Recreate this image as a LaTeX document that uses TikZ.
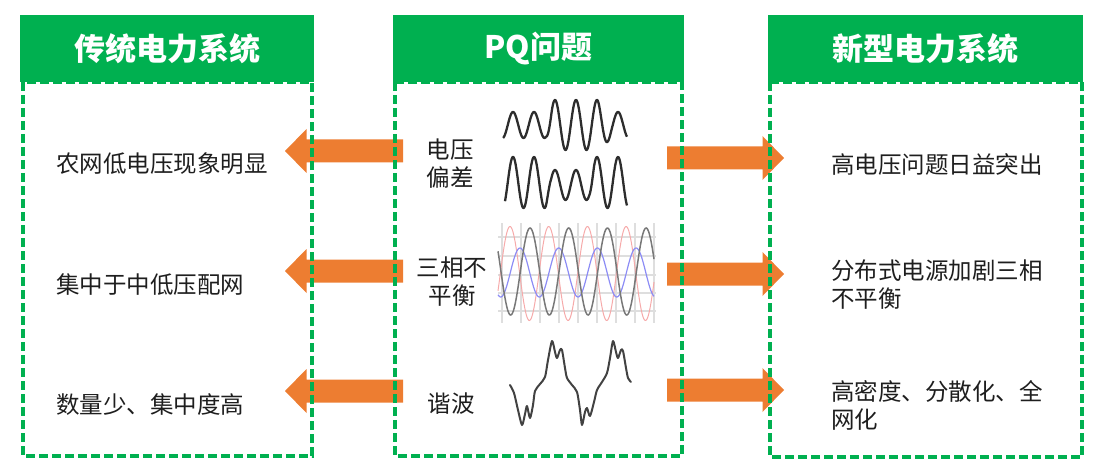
\documentclass[tikz,border=0pt]{standalone}
\usepackage{fontspec}
\setmainfont{Noto Sans CJK SC}
\usetikzlibrary{calc}
\definecolor{pqgreen}{RGB}{0,176,80}
\definecolor{pqorange}{RGB}{237,125,49}
\definecolor{pqtext}{RGB}{30,30,30}
\definecolor{wavegray}{RGB}{45,45,45}
\definecolor{phasegray}{RGB}{120,120,120}
\definecolor{phasered}{RGB}{246,170,170}
\definecolor{phaseblue}{RGB}{140,140,245}
\definecolor{gridgray}{RGB}{222,222,222}
\newcommand\blockarrow[3]{%
  \fill[pqorange] let \p1=(#1), \p2=(#2), \n1={\x2-(#3)*21.5pt} in
   ({\x1},{\y1+11.5pt}) -- ({\n1},{\y1+11.5pt}) -- ({\n1},{\y1+22pt})
   -- ({\x2},{\y1}) -- ({\n1},{\y1-22pt}) -- ({\n1},{\y1-11.5pt})
   -- ({\x1},{\y1-11.5pt}) -- cycle;}
\begin{document}
\begin{tikzpicture}[x=1pt,y=-1pt,
  headerbox/.style={fill=pqgreen,draw=none,text=white,inner sep=0pt,
     minimum height=67pt,font=\fontsize{31pt}{36pt}\selectfont\bfseries},
  dashbox/.style={draw=pqgreen,line width=3.3pt,dash pattern=on 9pt off 4pt},
  bodytext/.style={inner sep=0pt,text=pqtext,font=\fontsize{23.5pt}{28pt}\selectfont},
  volt/.style={draw=wavegray,line width=2.3pt,line join=round},
  harm/.style={draw=wavegray!90,line width=2pt,line join=round,line cap=round}]
\useasboundingbox (0,0) rectangle (1107,473);
% arrows (coordinates)
\coordinate (la1t) at (403,151); \coordinate (la1h) at (285,151);
\coordinate (la2t) at (403,271); \coordinate (la2h) at (285,271);
\coordinate (la3t) at (403,391); \coordinate (la3h) at (285,391);
\coordinate (ra1t) at (667,158); \coordinate (ra1h) at (784,158);
\coordinate (ra2t) at (667,274); \coordinate (ra2h) at (784,274);
\coordinate (ra3t) at (667,390); \coordinate (ra3h) at (784,390);
\blockarrow{la1t}{la1h}{-1}
\blockarrow{la2t}{la2h}{-1}
\blockarrow{la3t}{la3h}{-1}
\blockarrow{ra1t}{ra1h}{1}
\blockarrow{ra2t}{ra2h}{1}
\blockarrow{ra3t}{ra3h}{1}
% dashed panels
\draw[dashbox] (23,82) rectangle (312,456);
\draw[dashbox] (395,82) rectangle (682,456);
\draw[dashbox] (770,82) rectangle (1082,457);
% headers
\node[headerbox,minimum width=294pt] (h1) at (167,48.5) {传统电力系统};
\node[headerbox,minimum width=291pt] (h2) at (538.5,48.5) {PQ问题};
\node[headerbox,minimum width=315pt] (h3) at (925.5,48.5) {新型电力系统};
% left texts
\node[bodytext,anchor=west] (l1) at (56,164) {农网低电压现象明显};
\node[bodytext,anchor=west] (l2) at (56,285) {集中于中低压配网};
\node[bodytext,anchor=west] (l3) at (56,405) {数量少、集中度高};
% centre labels
\node[bodytext,align=center] (c1) at (450,164) {电压\\偏差};
\node[bodytext,align=center] (c2) at (452,282) {三相不\\平衡};
\node[bodytext,align=center] (c3) at (451,404) {谐波};
% right texts
\node[bodytext,anchor=west,align=left] (r1) at (831,164) {高电压问题日益突出};
\node[bodytext,anchor=west,align=left] (r2) at (831,284.5) {分布式电源加剧三相\\不平衡};
\node[bodytext,anchor=west,align=left] (r3) at (831,405) {高密度、分散化、全\\网化};
% voltage deviation waves
\draw[volt] plot[domain=503:627,samples=260,variable=\t]
  (\t,{125-(13+12*min(1,max(0,(\t-546)/6))*min(1,max(0,(612-\t)/14)))*cos((\t-513)/21*360)});
\draw[volt] plot[domain=505:627,samples=260,variable=\t]
  ({\t},{182.5+2.5*min(1,max(0,(\t-546)/5))*min(1,max(0,(594-\t)/5))
   -(25.5-10.5*min(1,max(0,(\t-546)/5))*min(1,max(0,(594-\t)/5)))*cos((\t-513)/21*360)});
% three-phase grid and waves
\foreach \gx in {502,521,540,559,578,597,616,635,654}
  \draw[gridgray,line width=1.2pt] (\gx,223) -- (\gx,323);
\foreach \gy in {237,256,275,293,311}
  \draw[gridgray,line width=1.2pt] (498,\gy) -- (656,\gy);
\draw[phasered,line width=1pt] plot[domain=498:654,samples=200,variable=\t]
  (\t,{273.5-47*cos((\t-510)/38.7*360)});
\draw[phaseblue,line width=1.2pt] plot[domain=498:654,samples=200,variable=\t]
  (\t,{272.5-24.5*cos((\t-520)/38.7*360)});
\draw[phasegray,line width=1.5pt] plot[domain=498:654,samples=200,variable=\t]
  (\t,{271.5-43.5*cos((\t-530)/38.7*360)});
% harmonic wave
\draw[harm] plot[smooth,tension=0.45] coordinates {
 (510,385) (514,393) (518,410) (522,425) (525,414) (527,406) (530,418) (533,405)
 (535,391) (540,384) (545,377) (548,360) (552,341) (555,352) (557,358) (560,350)
 (562,350) (565,368) (567,378) (572,385) (577,392) (580,410) (582,425) (585,412)
 (587,408) (590,416) (594,402) (597,390) (602,382) (607,373) (610,358) (613,341)
 (616,352) (618,358) (621,350) (623,351) (626,368) (628,378) (631,382)};
\end{tikzpicture}
\end{document}
